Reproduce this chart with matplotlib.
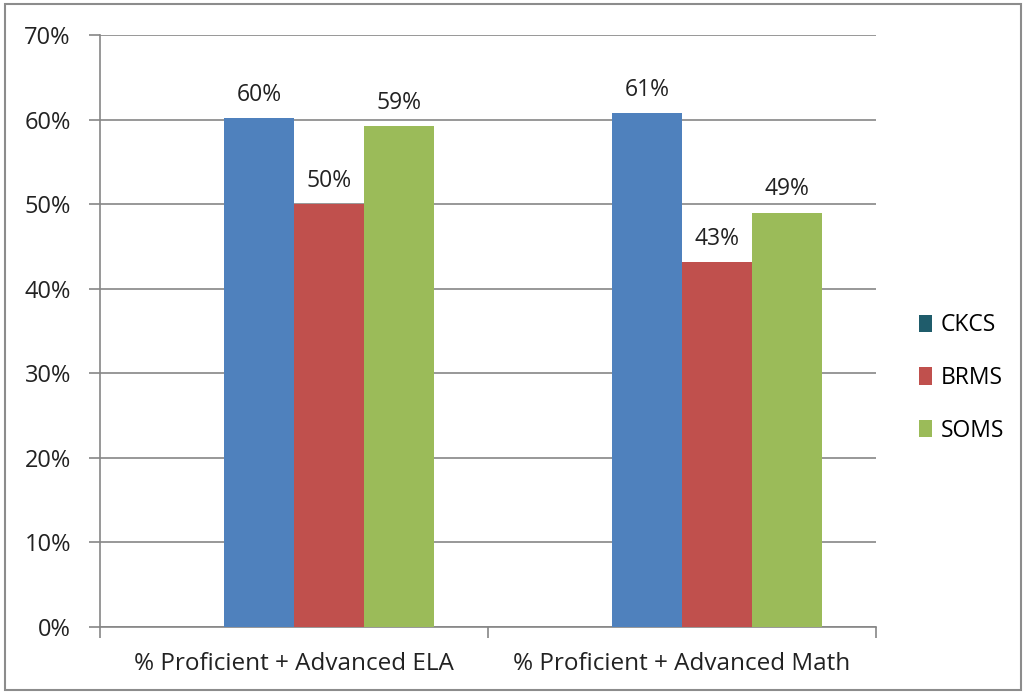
import matplotlib
matplotlib.use("Agg")
import matplotlib.pyplot as plt
from matplotlib.patches import Patch, Rectangle
import numpy as np

categories = ["% Proficient + Advanced ELA", "% Proficient + Advanced Math"]
series_names = ["CKCS", "BRMS", "SOMS"]
ckcs = [60.2, 60.8]
brms = [50.0, 43.1]
soms = [59.2, 49.0]
labels_ckcs = ["60%", "61%"]
labels_brms = ["50%", "43%"]
labels_soms = ["59%", "49%"]
yticks = [0, 10, 20, 30, 40, 50, 60, 70]

bar_colors = ["#4F81BD", "#C0504D", "#9BBB59"]
legend_colors = ["#1F5C6B", "#C0504D", "#9BBB59"]

plt.rcParams['font.family'] = ['Open Sans', 'DejaVu Sans']

fig = plt.figure(figsize=(10.28, 6.94), dpi=100)
ax = fig.add_axes([100/1028, 1-627/694, (876-100)/1028, (627-35)/694])

x = np.arange(len(categories))
w = 0.18
# four slots per group; the first slot is empty
slot_offsets = [-0.5 * w, 0.5 * w, 1.5 * w]
series = [ckcs, brms, soms]
labels = [labels_ckcs, labels_brms, labels_soms]
for vals, lab, off, col in zip(series, labels, slot_offsets, bar_colors):
    bars = ax.bar(x + off, vals, w, color=col, zorder=3, linewidth=0)
    for b, t in zip(bars, lab):
        ax.annotate(t, (b.get_x() + b.get_width()/2, b.get_height()),
                    xytext=(0, 8), textcoords="offset points",
                    ha="center", va="bottom", fontsize=16.5, color="#222222")

ax.set_xlim(-0.5, len(categories) - 0.5)
ax.set_ylim(0, 70)
ax.set_yticks(yticks)
ax.set_yticklabels([f"{v}%" for v in yticks], fontsize=17, color="#222222")
ax.yaxis.grid(True, color="#868686", linewidth=1.2, zorder=0)
ax.set_axisbelow(True)

ax.set_xticks(x)
ax.set_xticklabels(categories, fontsize=17.5, color="#222222")
ax.tick_params(axis="x", which="major", length=0, pad=18)
ax.set_xticks(np.arange(-0.5, len(categories)), minor=True)
ax.tick_params(axis="x", which="minor", length=8, width=1.2, color="#868686", direction="out")
ax.tick_params(axis="y", length=8, width=1.2, color="#868686", direction="out", pad=13)

for s in ["top", "right"]:
    ax.spines[s].set_visible(False)
for s in ["left", "bottom"]:
    ax.spines[s].set_color("#868686")
    ax.spines[s].set_linewidth(1.2)

handles = [Patch(facecolor=c, edgecolor="none") for c in legend_colors]
leg = fig.legend(handles, series_names, loc="center left",
                 bbox_to_anchor=(898/1028, 1-378/694), frameon=False,
                 fontsize=16.5, handlelength=0.6, handleheight=0.8,
                 handletextpad=0.35, labelspacing=1.25)

fig.patches.append(Rectangle((5/1028, 4/694), 1016/1028, 686/694, transform=fig.transFigure,
                             fill=False, edgecolor="#8c8c8c", linewidth=1.5))

fig.savefig("out.png", dpi=100, facecolor="white")
